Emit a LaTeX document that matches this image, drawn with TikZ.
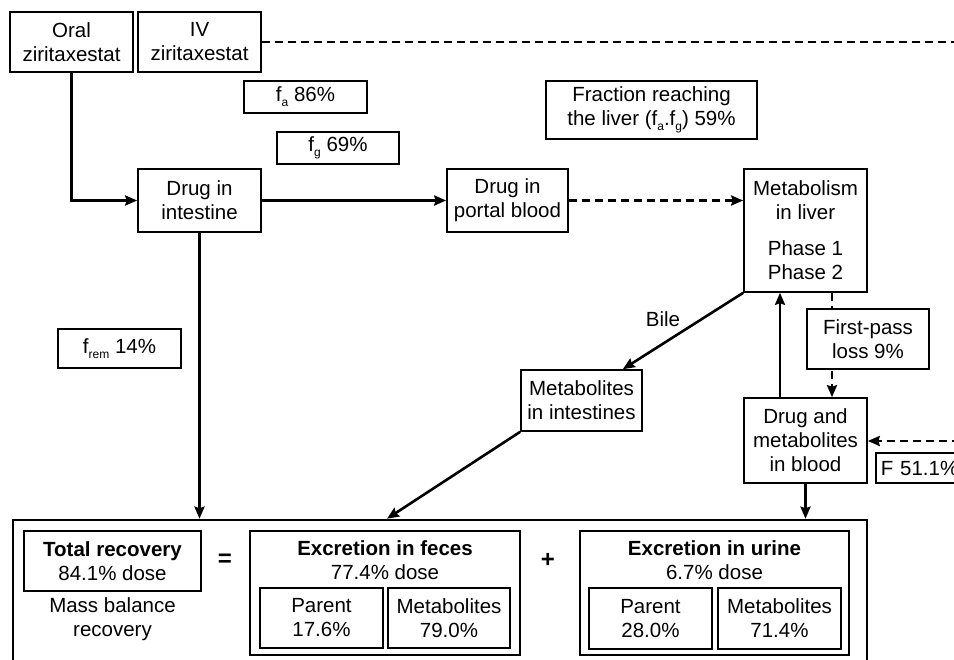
\documentclass[tikz,border=0pt]{standalone}
\usepackage{fontspec}
\setmainfont{Liberation Sans}
\usetikzlibrary{arrows.meta}
\newcommand{\fsz}{\fontsize{20.5}{24}\selectfont}
\newcommand{\lsub}[1]{\raisebox{-5pt}{\fontsize{12}{12}\selectfont #1}}
\tikzset{
  box/.style={draw, line width=1.6pt, inner sep=0pt, align=center, font=\fsz},
  txt/.style={inner sep=0pt, align=center, font=\fsz},
  flow/.style={line width=2.6pt, -{Stealth[length=12pt,width=10pt,inset=1.5pt]}},
  dashes/.style={line width=2.6pt, dash pattern=on 8pt off 5pt},
  dflow/.style={flow, dashes},
}
\begin{document}
\begin{tikzpicture}[x=1pt,y=-1pt]
  \useasboundingbox (0,0) rectangle (954,660);
  \clip (0,0) rectangle (954,660);
  \node[box, minimum width=123, minimum height=60] (oral) at (71.5,42) {Oral\\ziritaxestat};
  \node[box, minimum width=123, minimum height=60] (iv) at (199.5,42) {IV\\ziritaxestat};
  \node[box, minimum width=123, minimum height=32] (fa) at (305.5,97) {f\lsub{a} 86\%};
  \node[box, minimum width=122, minimum height=32] (fg) at (338,148) {f\lsub{g} 69\%};
  \node[box, minimum width=211, minimum height=58] (frac) at (651.5,110) {Fraction reaching\\the liver (f\lsub{a}.f\lsub{g}) 59\%};
  \node[box, minimum width=123, minimum height=63] (intes) at (199.5,200.5) {Drug in\\intestine};
  \node[box, minimum width=121, minimum height=63] (portal) at (507.5,200.5) {Drug in\\portal blood};
  \node[box, minimum width=123, minimum height=123] (liver) at (805.5,230.5) {Metabolism\\in liver\\[12pt]Phase 1\\Phase 2};
  \node[box, minimum width=123, minimum height=39] (frem) at (119.5,348.5) {f\lsub{rem} 14\%};
  \node[box, minimum width=121, minimum height=61] (metint) at (581.5,400.5) {Metabolites\\in intestines};
  \node[box, minimum width=123, minimum height=85] (blood) at (805.5,440.5) {Drug and\\metabolites\\in blood};
  \node[box, anchor=west, minimum height=30, text width=113, inner xsep=5pt, align=left] (fbox) at (875,468) {F 51.1\%};
  \node[txt] (bile) at (663,319) {Bile};
  \coordinate (ivend) at (960,42);
  \coordinate (fin) at (960,441);

  \node[box, line width=2.6pt, minimum width=854, minimum height=170] (outer) at (440,605) {};
  \node[box, minimum width=177, minimum height=60] (total) at (112.5,561) {\textbf{Total recovery}\\84.1\% dose};
  \node[txt] (mass) at (112.5,619.5) {Mass balance\\recovery};
  \node[txt, font=\fontsize{24}{24}\selectfont\bfseries] (eq) at (225,560) {=};
  \node[box, minimum width=270, minimum height=124] (feces) at (385,593) {};
  \node[txt] (fectitle) at (385,560.5) {\textbf{Excretion in feces}\\77.4\% dose};
  \node[box, minimum width=123, minimum height=60] (fecpar) at (321.5,618) {Parent\\17.6\%};
  \node[box, minimum width=122, minimum height=60] (fecmet) at (449,618) {Metabolites\\79.0\%};
  \node[txt, font=\fontsize{24}{24}\selectfont\bfseries] (plus) at (548,560) {+};
  \node[box, minimum width=269, minimum height=124] (urine) at (714.5,593) {};
  \node[txt] (urtitle) at (714.5,560.5) {\textbf{Excretion in urine}\\6.7\% dose};
  \node[box, minimum width=123, minimum height=61] (urpar) at (650.5,618.5) {Parent\\28.0\%};
  \node[box, minimum width=123, minimum height=61] (urmet) at (779.5,618.5) {Metabolites\\71.4\%};

  \draw[dashes] (iv) -- (ivend);
  \draw[flow] (oral) |- (intes);
  \draw[flow] (intes) -- (portal);
  \draw[dflow] (portal) -- (portal -| liver.west);
  \draw[dflow] ([xshift=26.5pt]liver.south) -- ([xshift=26.5pt]blood.north);
  \node[box, fill=white, minimum width=122, minimum height=60] (fp) at (868,339) {First-pass\\loss 9\%};
  \draw[flow] ([xshift=-25.5pt]blood.north) -- ([xshift=-25.5pt]liver.south);
  \draw[flow] (liver.south west) -- ([xshift=-20pt]metint.north east);
  \draw[dflow] (fin) -- (fin -| blood.east);
  \draw[flow] (intes) -- (intes |- outer.north);
  \draw[flow] (metint.south west) -- ([xshift=-53pt]outer.north);
  \draw[flow] (blood) -- (blood |- outer.north);
\end{tikzpicture}
\end{document}
